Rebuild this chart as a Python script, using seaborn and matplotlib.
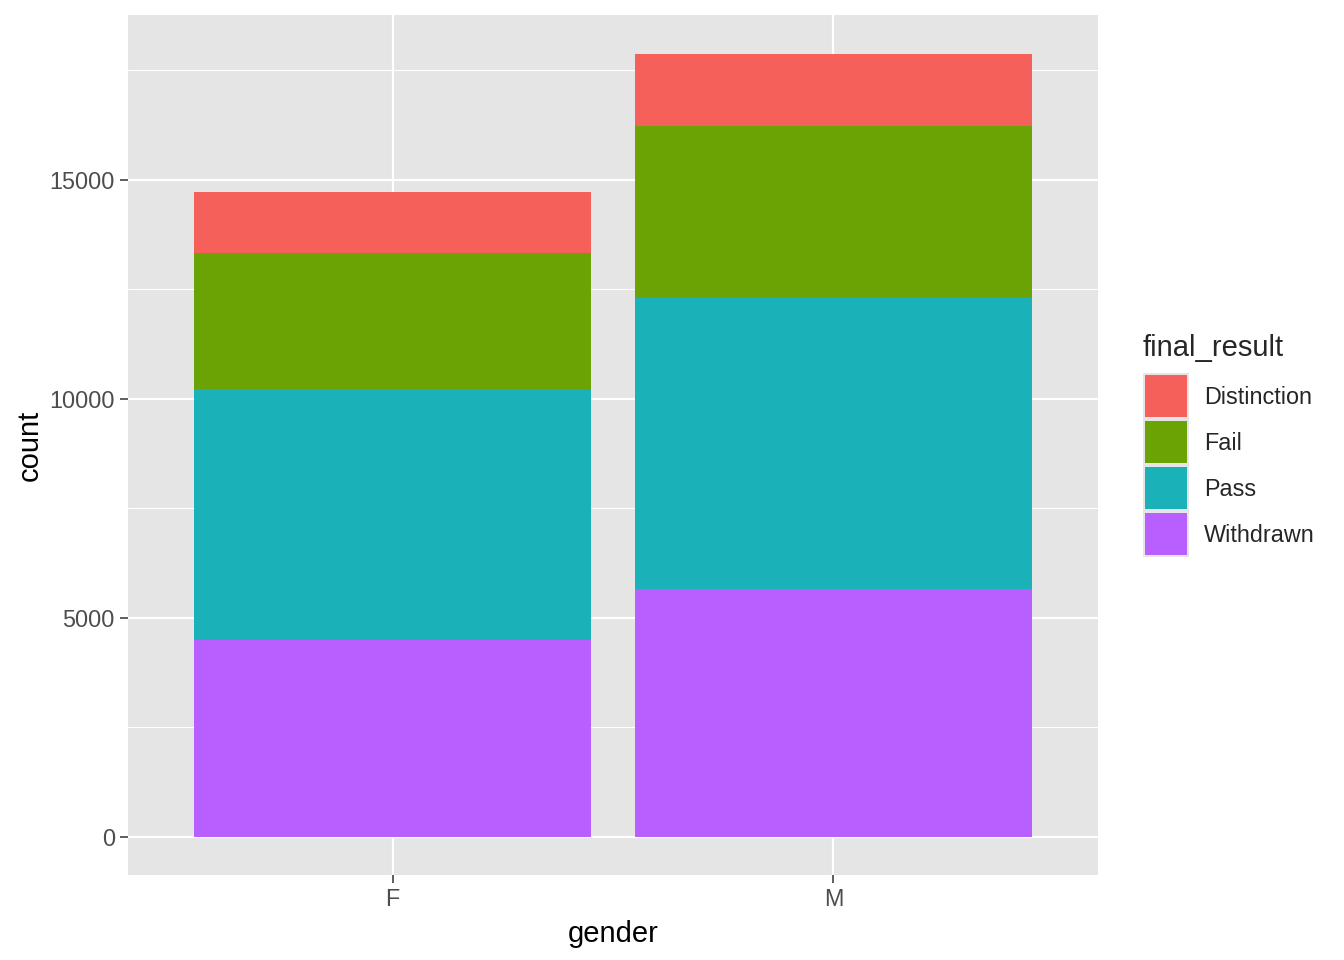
import matplotlib
matplotlib.use("Agg")
import matplotlib.pyplot as plt
from matplotlib.patches import Rectangle
import pandas as pd
import seaborn as sns

# counts (stack order bottom -> top: Withdrawn, Pass, Fail, Distinction)
genders = ["F", "M"]
withdrawn = [4500, 5656]
passed = [5720, 6641]
fail = [3110, 3942]
distinction = [1388, 1636]

results = ["Distinction", "Fail", "Pass", "Withdrawn"]
colors = {"Distinction": "#F5605B", "Fail": "#6BA304", "Pass": "#1AB2B8", "Withdrawn": "#B75FFF"}

df = pd.DataFrame({"gender": genders, "Withdrawn": withdrawn, "Pass": passed,
                   "Fail": fail, "Distinction": distinction})
df["cum_W"] = df["Withdrawn"]
df["cum_P"] = df["cum_W"] + df["Pass"]
df["cum_F"] = df["cum_P"] + df["Fail"]
df["cum_D"] = df["cum_F"] + df["Distinction"]

sns.set_theme(style="white")
plt.rcParams["font.family"] = ["Liberation Sans", "DejaVu Sans"]

fig = plt.figure(figsize=(13.44, 9.6), dpi=100)
ax = fig.add_axes([128 / 1344, 85 / 960, (1098 - 128) / 1344, (875 - 15) / 960])
ax.set_facecolor("#E5E5E5")

# grid first (ggplot style)
for v in [2500, 7500, 12500, 17500]:
    ax.axhline(v, color="white", lw=0.8, zorder=0)
for v in [0, 5000, 10000, 15000]:
    ax.axhline(v, color="white", lw=1.6, zorder=0)
for v in [0, 1]:
    ax.axvline(v, color="white", lw=1.6, zorder=0)

# draw cumulative bars from tallest to shortest
for col, name in [("cum_D", "Distinction"), ("cum_F", "Fail"), ("cum_P", "Pass"), ("cum_W", "Withdrawn")]:
    sns.barplot(data=df, x="gender", y=col, color=colors[name], saturation=1,
                width=0.9, errorbar=None, ax=ax, zorder=2, linewidth=0)

ax.set_xlim(-0.6, 1.6)
ax.set_ylim(-868, 18767)
ax.set_yticks([0, 5000, 10000, 15000])
ax.set_yticklabels(["0", "5000", "10000", "15000"])
for s in ax.spines.values():
    s.set_visible(False)
ax.tick_params(axis="both", length=5.5, width=1.1, color="#333333",
               labelsize=16.8, labelcolor="#4D4D4D", pad=4, left=True, bottom=True)
ax.set_xlabel("gender", fontsize=21, color="black", labelpad=6)
ax.set_ylabel("count", fontsize=21, color="black", labelpad=4)

# legend drawn by hand, ggplot style
fig.text(1143 / 1344, 1 - 348 / 960, "final_result", fontsize=21, va="center", ha="left")
key_top = 373
for i, name in enumerate(results):
    y0 = key_top + i * 46
    fig.patches.append(Rectangle((1143 / 1344, 1 - (y0 + 46) / 960), 46 / 1344, 46 / 960,
                                 transform=fig.transFigure, facecolor="#E5E5E5", edgecolor="none"))
    fig.patches.append(Rectangle((1145 / 1344, 1 - (y0 + 44) / 960), 42 / 1344, 42 / 960,
                                 transform=fig.transFigure, facecolor=colors[name], edgecolor="none"))
    fig.text(1204 / 1344, 1 - (y0 + 25) / 960, name, fontsize=16.8, va="center", ha="left")

fig.savefig("out.png", dpi=100)
